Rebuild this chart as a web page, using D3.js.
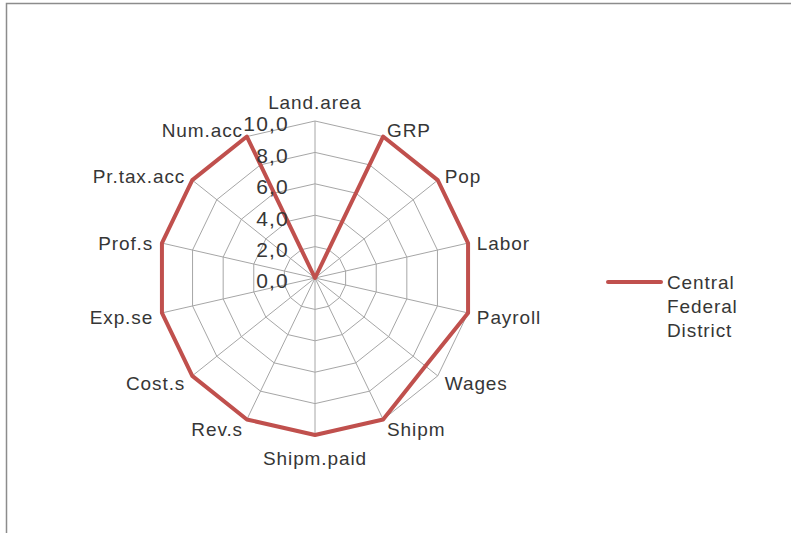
<!DOCTYPE html>
<html>
<head>
<meta charset="utf-8">
<script src="https://cdn.jsdelivr.net/npm/d3@7"></script>
<style>
    body { margin: 0; background: #fff; }
    svg { display: block; }
    text { font-family: "Liberation Sans", Arial, sans-serif; fill: #363636; }
</style>
</head>
<body>
<div id="chart"></div>
<script>

var categories = ["Land.area", "GRP", "Pop", "Labor", "Payroll", "Wages", "Shipm",
    "Shipm.paid", "Rev.s", "Cost.s", "Exp.se", "Prof.s", "Pr.tax.acc", "Num.acc"]

var values = [0, 10, 10, 10, 10, 9.0, 10, 10, 10, 10, 10, 10, 10, 10]

var ticks = [0, 2, 4, 6, 8, 10]

var seriesName = ["Central", "Federal", "District"]

var width = 791, height = 533

var cx = 315, cy = 278, radius = 157

var red = "#c0504d"

var svg = d3.select("#chart").append("svg")
    .attr("width", width)
    .attr("height", height)

// frame (only top and left edges show in the picture)
svg.append("rect")
    .attr("x", 6.5)
    .attr("y", 3.5)
    .attr("width", width + 20)
    .attr("height", height + 20)
    .attr("fill", "none")
    .attr("stroke", "#8c8c8c")
    .attr("stroke-width", 1.5)

var r = d3.scaleLinear().domain([0, 10]).range([0, radius])

var angle = d3.scalePoint()
    .domain(categories)
    .range([0, 2 * Math.PI * (categories.length - 1) / categories.length])

var comma = d3.formatLocale({ decimal: ",", thousands: " ", grouping: [3], currency: ["", ""] }).format(".1f")

var g = svg.append("g").attr("transform", "translate(" + cx + "," + cy + ")")

function point(cat, v) {
    var a = angle(cat)
    return [Math.sin(a) * r(v), -Math.cos(a) * r(v)]
}

// rings
ticks.filter(function(t) { return t > 0 }).forEach(function(t) {
    g.append("path")
        .attr("d", d3.line()(categories.map(function(c) { return point(c, t) })) + "Z")
        .attr("fill", "none")
        .attr("stroke", "#a6a6a6")
        .attr("stroke-width", 1)
})

// spokes
g.selectAll(".spoke")
    .data(categories)
    .enter().append("line")
    .attr("class", "spoke")
    .attr("x1", 0)
    .attr("y1", 0)
    .attr("x2", function(d) { return point(d, 10)[0] })
    .attr("y2", function(d) { return point(d, 10)[1] })
    .attr("stroke", "#a6a6a6")
    .attr("stroke-width", 1)

// series
g.append("path")
    .attr("d", d3.line()(categories.map(function(c, i) { return point(c, values[i]) })) + "Z")
    .attr("fill", "none")
    .attr("stroke", red)
    .attr("stroke-width", 4)
    .attr("stroke-linejoin", "round")

// value axis labels
g.selectAll(".tick")
    .data(ticks)
    .enter().append("text")
    .attr("class", "tick")
    .attr("x", -26)
    .attr("y", function(d) { return -r(d) + 3 })
    .attr("dy", "0.35em")
    .attr("text-anchor", "end")
    .style("font-size", "21px")
    .style("letter-spacing", "1.2px")
    .text(function(d) { return comma(d) })

// category labels
g.selectAll(".cat")
    .data(categories)
    .enter().append("text")
    .attr("class", "cat")
    .each(function(d) {
        var a = angle(d)
        var s = Math.sin(a), c = -Math.cos(a)
        var lr = radius + 9
        var x = s * lr, y = c * lr + 2
        var anchor = s > 0.1 ? "start" : s < -0.1 ? "end" : "middle"
        if (anchor === "middle") y += c * 12
        d3.select(this)
            .attr("x", x)
            .attr("y", y)
            .attr("dy", "0.35em")
            .attr("text-anchor", anchor)
    })
    .style("font-size", "19px")
    .style("letter-spacing", "0.9px")
    .text(function(d) { return d })

// legend
var legend = svg.append("g").attr("transform", "translate(608,282)")

legend.append("line")
    .attr("x1", 0)
    .attr("x2", 53)
    .attr("y1", 0)
    .attr("y2", 0)
    .attr("stroke", red)
    .attr("stroke-width", 4)
    .attr("stroke-linecap", "round")

legend.selectAll("text")
    .data(seriesName)
    .enter().append("text")
    .attr("x", 59)
    .attr("y", function(d, i) { return i * 24 })
    .attr("dy", "0.35em")
    .style("font-size", "19px")
    .style("letter-spacing", "0.9px")
    .text(function(d) { return d })

</script>
</body>
</html>
